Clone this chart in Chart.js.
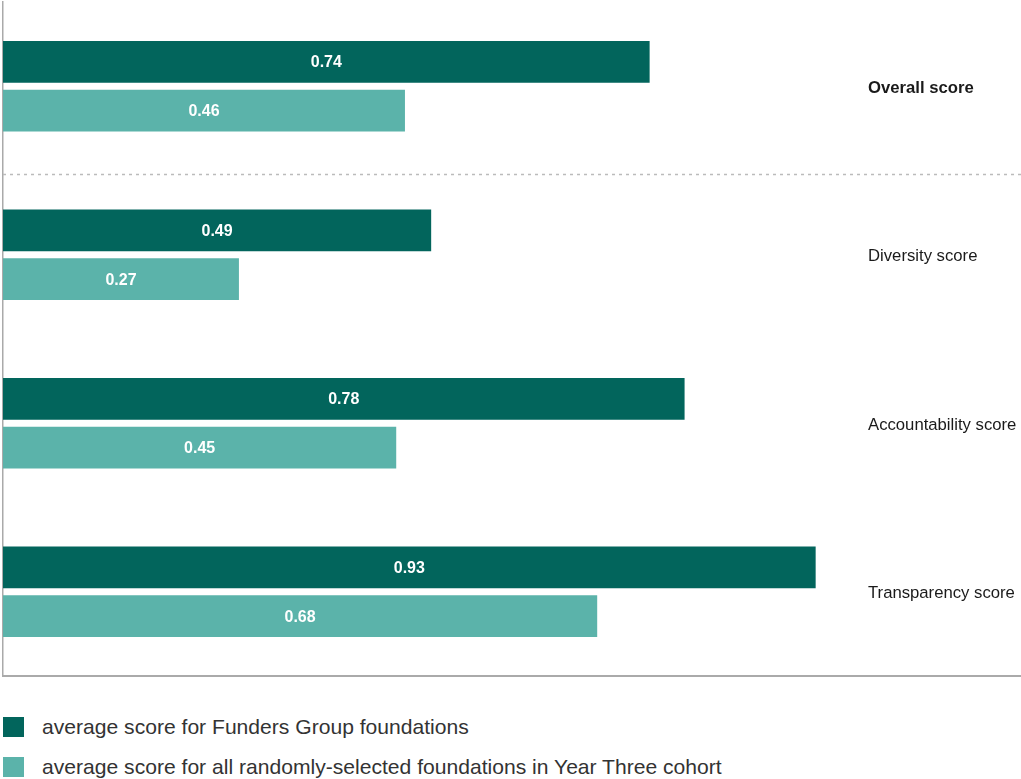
<!DOCTYPE html>
<html>
<head>
<meta charset="utf-8">
<script src="https://cdn.jsdelivr.net/npm/chart.js@4.4.1/dist/chart.umd.min.js"></script>
<style>
  html, body { margin: 0; padding: 0; background: #fff; }
  body { width: 1021px; height: 779px; overflow: hidden; font-family: "Liberation Sans", Arial, sans-serif; }
  #wrap { position: relative; width: 1021px; height: 677px; }
  #legend { position: absolute; left: 3px; top: 716px; }
  .item { display: flex; align-items: center; height: 22px; margin-bottom: 18px; font-size: 21.1px; color: #333; }
  .box { width: 21px; height: 20px; margin-right: 18px; }
</style>
</head>
<body>
<div id="wrap"><canvas id="chart"></canvas></div>
<div id="legend"></div>
<script>
const categories = ['Overall score', 'Diversity score', 'Accountability score', 'Transparency score'];
const funderScores = [0.74, 0.49, 0.78, 0.93];
const cohortScores = [0.46, 0.27, 0.45, 0.68];
const seriesNames = ['average score for Funders Group foundations', 'average score for all randomly-selected foundations in Year Three cohort'];
const colors = ['#02655c', '#5bb3aa'];

const overlay = {
  id: 'overlay',
  afterDatasetsDraw(chart) {
    const { ctx, chartArea, scales } = chart;
    const y = scales.y;
    ctx.save();
    // dashed separator under the overall score
    const sep = Math.round((y.getPixelForValue(0) + y.getPixelForValue(1)) / 2) + 3.5;
    ctx.strokeStyle = '#bbbbbb';
    ctx.lineWidth = 1.5;
    ctx.setLineDash([3, 4]);
    ctx.beginPath();
    ctx.moveTo(chartArea.left, sep);
    ctx.lineTo(chartArea.right, sep);
    ctx.stroke();
    ctx.setLineDash([]);
    // value labels inside bars
    ctx.fillStyle = '#ffffff';
    ctx.font = 'bold 16px "Liberation Sans", Arial, sans-serif';
    ctx.textAlign = 'center';
    ctx.textBaseline = 'middle';
    chart.data.datasets.forEach((ds, di) => {
      chart.getDatasetMeta(di).data.forEach((bar, i) => {
        ctx.fillText(ds.data[i].toFixed(2), (bar.x + bar.base) / 2, bar.y + 1);
      });
    });
    // category labels on the right
    ctx.textAlign = 'left';
    ctx.fillStyle = '#1a1a1a';
    categories.forEach((c, i) => {
      ctx.font = (i === 0 ? 'bold ' : '') + '16.7px "Liberation Sans", Arial, sans-serif';
      ctx.fillText(c, chartArea.left + 865, y.getPixelForValue(i) + 2);
    });
    ctx.restore();
  }
};

new Chart(document.getElementById('chart'), {
  type: 'bar',
  data: {
    labels: categories,
    datasets: [
      { label: seriesNames[0], data: funderScores, backgroundColor: colors[0] },
      { label: seriesNames[1], data: cohortScores, backgroundColor: colors[1] },
    ],
  },
  options: {
    indexAxis: 'y',
    responsive: true,
    maintainAspectRatio: false,
    animation: false,
    categoryPercentage: 0.58,
    barPercentage: 0.857,
    layout: { padding: { left: 3, top: 2, right: 0, bottom: 1 } },
    plugins: { legend: { display: false }, tooltip: { enabled: false } },
    scales: {
      x: {
        min: 0, max: 1.165,
        ticks: { display: false },
        grid: { display: false },
        border: { color: '#aaaaaa', width: 2 },
        afterFit: (s) => { s.height = 0; },
      },
      y: {
        ticks: { display: false },
        grid: { display: false },
        border: { color: '#aaaaaa', width: 1.5 },
        afterFit: (s) => { s.width = 0; },
      },
    },
  },
  plugins: [overlay],
});

const legend = document.getElementById('legend');
seriesNames.forEach((name, i) => {
  const item = document.createElement('div');
  item.className = 'item';
  item.innerHTML = '<span class="box" style="background:' + colors[i] + '"></span><span>' + name + '</span>';
  legend.appendChild(item);
});
</script>
</body>
</html>
